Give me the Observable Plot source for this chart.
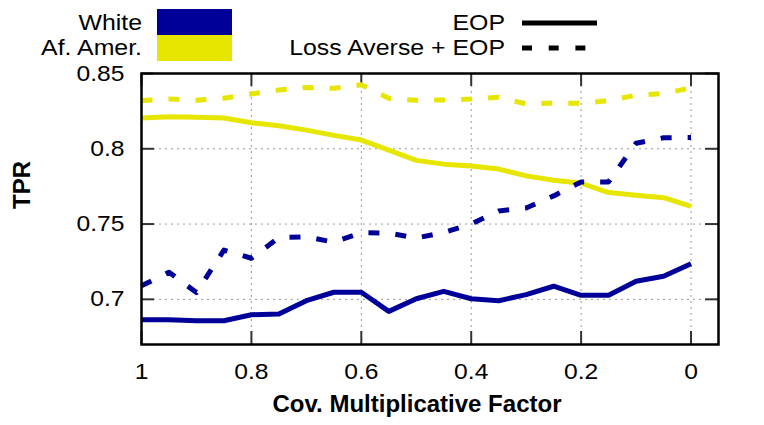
<!DOCTYPE html>
<html><head><meta charset="utf-8">
<script src="https://cdn.jsdelivr.net/npm/d3@7"></script>
<script src="https://cdn.jsdelivr.net/npm/@observablehq/plot@0.6"></script>
<style>
body{margin:0;background:#fff;}
#wrap{position:relative;width:764px;height:425px;font-family:"Liberation Sans",Arial,sans-serif;}
#legend{position:absolute;left:0;top:0;}
</style></head><body><div id="wrap"></div>
<script>
const factors = [1,0.95,0.9,0.85,0.8,0.75,0.7,0.65,0.6,0.55,0.5,0.45,0.4,0.35,0.3,0.25,0.2,0.15,0.1,0.05,0];
const eopWhite = [0.6864,0.6864,0.6858,0.6858,0.6898,0.6902,0.6991,0.7047,0.7047,0.692,0.7004,0.7053,0.7004,0.6991,0.7031,0.7087,0.7027,0.7027,0.712,0.7153,0.7236];
const eopAfAmer = [0.8205,0.8213,0.821,0.8205,0.8173,0.8153,0.8124,0.8089,0.8058,0.7991,0.7923,0.7898,0.7885,0.7865,0.782,0.7791,0.7771,0.7709,0.7691,0.7675,0.7617];
const laWhite = [0.709,0.718,0.7045,0.7327,0.7273,0.741,0.7415,0.738,0.7442,0.744,0.7407,0.7444,0.75,0.7587,0.7607,0.7687,0.778,0.778,0.8037,0.8073,0.8075];
const laAfAmer = [0.832,0.8331,0.8322,0.8336,0.8364,0.8391,0.8407,0.8402,0.8425,0.8335,0.8322,0.8324,0.833,0.8342,0.8298,0.8304,0.8302,0.832,0.8356,0.8367,0.8405];
const xTicks = [1,0.8,0.6,0.4,0.2,0];
const yTicks = [0.7,0.75,0.8,0.85];
const groups = ["White","Af. Amer."];
const methods = ["EOP","Loss Averse + EOP"];
const colors = ["#000099","#e6e600"];

const W = 764, H = 425, mL = 141, mR = 46, mT = 73, mB = 81;
const fw = W - mL - mR, fh = H - mT - mB;
const toRows = vals => factors.map((f, i) => ({f, v: vals[i]}));

const lineOpts = (color, dashed) => ({
  x: "f", y: "v", stroke: color, strokeWidth: 5,
  strokeLinecap: "butt", strokeLinejoin: "round",
  strokeDasharray: dashed ? "11,16" : null
});

const chart = Plot.plot({
  width: W, height: H,
  marginLeft: mL, marginRight: mR, marginTop: mT, marginBottom: mB,
  x: {domain: [1, -0.05]},
  y: {domain: [0.67, 0.85]},
  style: {fontFamily: "'Liberation Sans', Arial, sans-serif", fontSize: "22px", color: "#000", background: "#fff", overflow: "visible"},
  marks: [
    Plot.gridX(xTicks.slice(1), {stroke: "#999", strokeOpacity: 1, strokeDasharray: "2,4", strokeWidth: 1}),
    Plot.gridY(yTicks.slice(0, 3), {stroke: "#999", strokeOpacity: 1, strokeDasharray: "2,4", strokeWidth: 1}),
    Plot.tickX(xTicks, {x: d => d, insetTop: fh - 13, stroke: "#333", strokeWidth: 2}),
    Plot.tickX(xTicks, {x: d => d, insetBottom: fh - 13, stroke: "#333", strokeWidth: 2}),
    Plot.tickY(yTicks, {y: d => d, insetRight: fw - 13, stroke: "#333", strokeWidth: 2}),
    Plot.tickY(yTicks, {y: d => d, insetLeft: fw - 13, stroke: "#333", strokeWidth: 2}),
    Plot.axisX(xTicks, {tickSize: 0, tickPadding: 19, label: null, fontSize: 22, tickFormat: d => String(d)}),
    Plot.axisY(yTicks, {tickSize: 0, tickPadding: 17, label: null, fontSize: 22, tickFormat: d => String(d)}),
    Plot.line(toRows(eopWhite), lineOpts(colors[0], false)),
    Plot.line(toRows(eopAfAmer), lineOpts(colors[1], false)),
    Plot.line(toRows(laWhite), lineOpts(colors[0], true)),
    Plot.line(toRows(laAfAmer), lineOpts(colors[1], true)),
    Plot.text(["TPR"], {text: d => d, frameAnchor: "left", dx: -119, rotate: -90, fontWeight: "bold", fontSize: 24}),
    Plot.text(["Cov. Multiplicative Factor"], {text: d => d, frameAnchor: "bottom", dx: -13, dy: 67, fontWeight: "bold", fontSize: 24}),
    Plot.frame({stroke: "#000", strokeWidth: 2.5})
  ]
});

const wrap = document.getElementById("wrap");
wrap.appendChild(chart);

// legend overlay
const ns = "http://www.w3.org/2000/svg";
const lg = document.createElementNS(ns, "svg");
lg.setAttribute("id", "legend");
lg.setAttribute("width", W);
lg.setAttribute("height", 66);
lg.setAttribute("font-family", "'Liberation Sans', Arial, sans-serif");
lg.setAttribute("font-size", "22");
function el(tag, attrs, text) {
  const e = document.createElementNS(ns, tag);
  for (const k in attrs) e.setAttribute(k, attrs[k]);
  if (text != null) e.textContent = text;
  lg.appendChild(e);
  return e;
}
const legendTexts = [];
groups.forEach((g, i) => {
  legendTexts.push(el("text", {x: 142, y: 30 + 25 * i, "text-anchor": "end"}, g));
  el("rect", {x: 157, y: 9 + 26 * i, width: 75, height: 26, fill: colors[i]});
});
methods.forEach((m, i) => {
  legendTexts.push(el("text", {x: 505, y: 30 + 25 * i, "text-anchor": "end"}, m));
  el("line", {x1: 522, x2: 597, y1: 23 + 25 * i, y2: 23 + 25 * i, stroke: "#000", "stroke-width": 5,
    "stroke-dasharray": i ? "10,16.7" : "none"});
});
wrap.appendChild(lg);

// the reference's glyphs are wider than Liberation Sans: stretch horizontally
function stretch(t, k) {
  const len = t.getComputedTextLength();
  if (len > 0) {
    t.setAttribute("textLength", (len * k).toFixed(2));
    t.setAttribute("lengthAdjust", "spacingAndGlyphs");
  }
}
chart.querySelectorAll("[aria-label$='tick label'] text").forEach(t => stretch(t, 1.12));
legendTexts.forEach(t => stretch(t, 1.13));
</script>
</body></html>
